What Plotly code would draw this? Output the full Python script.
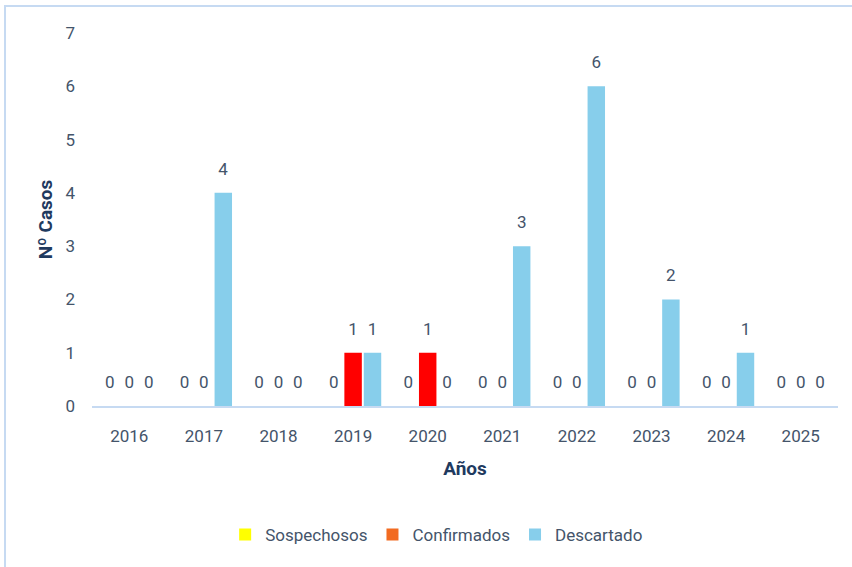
import plotly.graph_objects as go

years = ['2016', '2017', '2018', '2019', '2020', '2021', '2022', '2023', '2024', '2025']
sospechosos = [0, 0, 0, 0, 0, 0, 0, 0, 0, 0]
confirmados = [0, 0, 0, 1, 1, 0, 0, 0, 0, 0]
descartado = [0, 4, 0, 1, 0, 3, 6, 2, 1, 0]

# (name, values, bar colour, legend swatch colour) - the source legend shows orange for Confirmados
series = [
    ('Sospechosos', sospechosos, '#FFFF00', '#FFFF00'),
    ('Confirmados', confirmados, '#FF0000', '#F26B21'),
    ('Descartado', descartado, '#87CEEB', '#87CEEB'),
]

TEXT = '#44546A'
TITLE = '#1F3A5F'
LINE = '#C6DAF2'
FONT = 'Roboto, Arial, sans-serif'

fig = go.Figure()

for name, vals, bar_color, legend_color in series:
    fig.add_trace(go.Bar(
        x=years, y=vals, name=name,
        marker=dict(color=bar_color, line=dict(width=0)),
        text=[str(v) for v in vals],
        # small empty second line lifts the value label a bit above the bar
        texttemplate='<span style="font-size:17px">%{text}</span><br> ',
        textposition='outside',
        textfont=dict(size=10, color=TEXT, family=FONT),
        cliponaxis=False,
        showlegend=False,
    ))

# legend entries as marker-only scatters so they don't take bar slots
for name, vals, bar_color, legend_color in series:
    fig.add_trace(go.Scatter(x=[None], y=[None], name=name, mode='markers',
                             marker=dict(symbol='square', size=12, color=legend_color)))

fig.update_layout(
    width=852, height=567,
    template='plotly_white',
    plot_bgcolor='white', paper_bgcolor='white',
    barmode='group', bargap=0.22, bargroupgap=0.1,
    margin=dict(l=92, r=14, t=33, b=161),
    font=dict(family=FONT, size=17, color=TEXT),
    legend=dict(orientation='h', x=0.462, xanchor='center', y=-0.346, yanchor='middle',
                font=dict(size=17, color=TEXT), itemwidth=30, traceorder='normal'),
)

fig.update_xaxes(showgrid=False, showline=True, linecolor=LINE, linewidth=2, automargin=False,
                 ticks='', tickfont=dict(size=17, color=TEXT), ticklabelstandoff=14,
                 title=dict(text='<b>Años</b>', font=dict(size=19, color=TITLE), standoff=16))
fig.update_yaxes(range=[0, 7], dtick=1, showgrid=False, zeroline=False, showline=False, automargin=False,
                 ticks='', tickfont=dict(size=17, color=TEXT), ticklabelstandoff=16,
                 title=dict(text='<b>Nº Casos</b>', font=dict(size=19, color=TITLE), standoff=7))

# outer frame: only left and top edges fall inside the image
fig.add_shape(type='rect', xref='paper', yref='paper', x0=-0.1166, x1=1.2, y0=-0.6, y1=1.0724,
              line=dict(color=LINE, width=2), fillcolor='rgba(0,0,0,0)', layer='below')

# drop the default 8px body margin so the figure sits at the window corner
fig.write_html('out.html', config={'displayModeBar': False},
               post_script="document.body.style.margin='0';")
